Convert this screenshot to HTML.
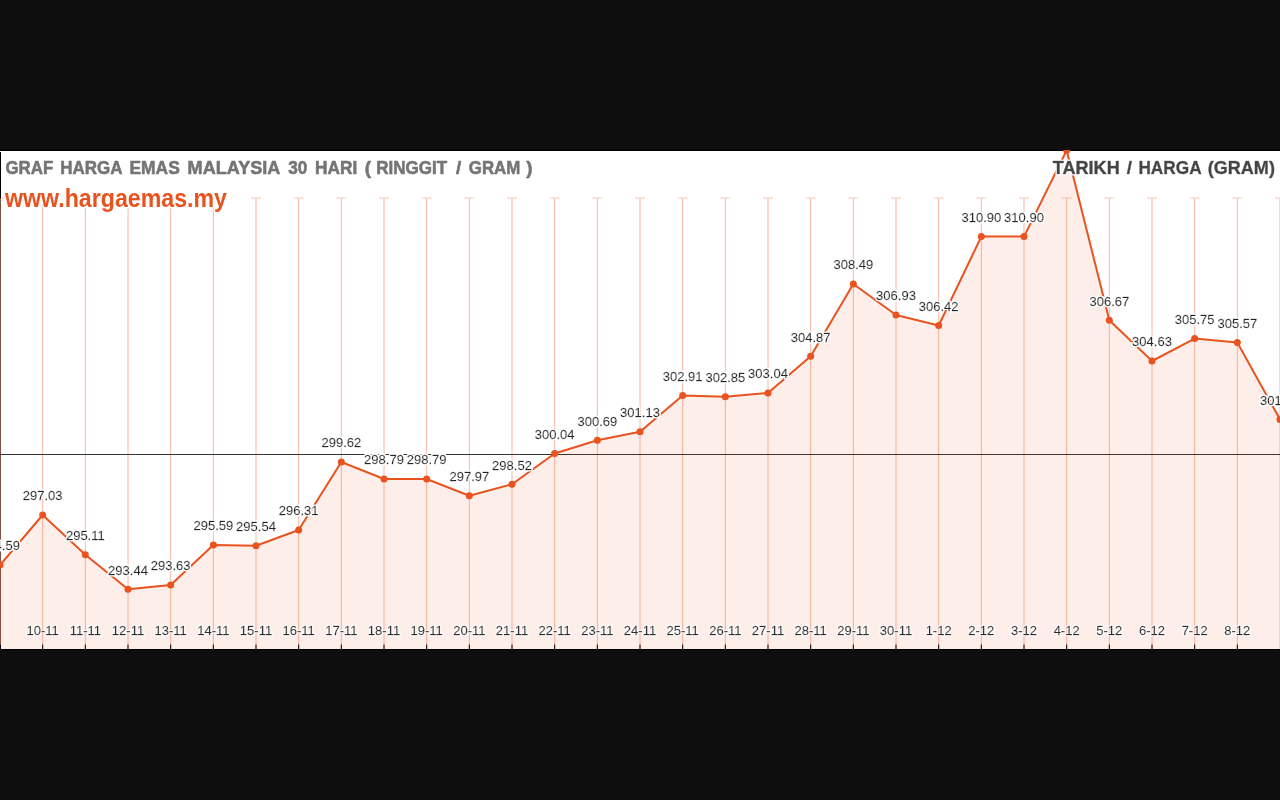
<!DOCTYPE html>
<html lang="ms">
<head>
<meta charset="utf-8">
<title>Graf Harga Emas Malaysia 30 Hari</title>
<style>
html,body{margin:0;padding:0;width:1280px;height:800px;overflow:hidden;background:#0e0e0e;}
#chart{position:absolute;left:0;top:150px;width:1280px;height:500px;display:block;}
text{font-family:"Liberation Sans",Arial,sans-serif;}
.v{font-size:13px;fill:#222;text-anchor:middle;stroke:#222;stroke-width:0.3px;}
.d{font-size:13px;fill:#2a2a2a;text-anchor:middle;stroke:#2a2a2a;stroke-width:0.3px;}
.t1{font-size:18.8px;font-weight:bold;fill:#757575;stroke:#757575;stroke-width:0.6px;stroke-linejoin:round;}
.t2{font-size:25.2px;font-weight:bold;fill:#e8531f;stroke:#fff;stroke-width:3px;stroke-linejoin:round;paint-order:stroke fill;}
.t3{font-size:18.8px;font-weight:bold;fill:#444;stroke:#444;stroke-width:0.6px;stroke-linejoin:round;}
</style>
</head>
<body>
<svg id="chart" width="1280" height="500" viewBox="0 0 1280 500">
<defs>
<filter id="halo" x="-5%" y="-40%" width="110%" height="180%">
<feMorphology in="SourceAlpha" operator="dilate" radius="1.3" result="d"/>
<feGaussianBlur in="d" stdDeviation="0.6" result="b"/>
<feFlood flood-color="#fff" result="w"/>
<feComposite in="w" in2="b" operator="in" result="h"/>
<feMerge><feMergeNode in="h"/><feMergeNode in="h"/><feMergeNode in="SourceGraphic"/></feMerge>
</filter>
<filter id="halo2" x="0" y="0" width="100%" height="100%" filterUnits="userSpaceOnUse" primitiveUnits="userSpaceOnUse">
<feMorphology in="SourceAlpha" operator="dilate" radius="1.4" result="d"/>
<feGaussianBlur in="d" stdDeviation="0.5" result="b"/>
<feFlood flood-color="#fff" result="w"/>
<feComposite in="w" in2="b" operator="in" result="h"/>
<feMerge><feMergeNode in="h"/><feMergeNode in="h"/><feMergeNode in="SourceGraphic"/></feMerge>
</filter>
<filter id="halo3" x="0" y="0" width="100%" height="100%" filterUnits="userSpaceOnUse" primitiveUnits="userSpaceOnUse">
<feMorphology in="SourceAlpha" operator="dilate" radius="0.9" result="d"/>
<feGaussianBlur in="d" stdDeviation="0.5" result="b"/>
<feFlood flood-color="#fff" flood-opacity="0.9" result="w"/>
<feComposite in="w" in2="b" operator="in" result="h"/>
<feMerge><feMergeNode in="h"/><feMergeNode in="SourceGraphic"/></feMerge>
</filter>
</defs>
<rect x="0" y="0" width="1280" height="500" fill="#000"/>
<rect x="0" y="1" width="1280" height="498" fill="#fff"/>

<g stroke="#f6baa5" stroke-width="1" fill="none">
<line x1="42.67" y1="48" x2="42.67" y2="499"/>
<line x1="85.33" y1="48" x2="85.33" y2="499"/>
<line x1="128.0" y1="48" x2="128.0" y2="499"/>
<line x1="170.67" y1="48" x2="170.67" y2="499"/>
<line x1="213.33" y1="48" x2="213.33" y2="499"/>
<line x1="256.0" y1="48" x2="256.0" y2="499"/>
<line x1="298.67" y1="48" x2="298.67" y2="499"/>
<line x1="341.33" y1="48" x2="341.33" y2="499"/>
<line x1="384.0" y1="48" x2="384.0" y2="499"/>
<line x1="426.67" y1="48" x2="426.67" y2="499"/>
<line x1="469.33" y1="48" x2="469.33" y2="499"/>
<line x1="512.0" y1="48" x2="512.0" y2="499"/>
<line x1="554.67" y1="48" x2="554.67" y2="499"/>
<line x1="597.33" y1="48" x2="597.33" y2="499"/>
<line x1="640.0" y1="48" x2="640.0" y2="499"/>
<line x1="682.67" y1="48" x2="682.67" y2="499"/>
<line x1="725.33" y1="48" x2="725.33" y2="499"/>
<line x1="768.0" y1="48" x2="768.0" y2="499"/>
<line x1="810.67" y1="48" x2="810.67" y2="499"/>
<line x1="853.33" y1="48" x2="853.33" y2="499"/>
<line x1="896.0" y1="48" x2="896.0" y2="499"/>
<line x1="938.67" y1="48" x2="938.67" y2="499"/>
<line x1="981.33" y1="48" x2="981.33" y2="499"/>
<line x1="1024.0" y1="48" x2="1024.0" y2="499"/>
<line x1="1066.67" y1="48" x2="1066.67" y2="499"/>
<line x1="1109.33" y1="48" x2="1109.33" y2="499"/>
<line x1="1152.0" y1="48" x2="1152.0" y2="499"/>
<line x1="1194.67" y1="48" x2="1194.67" y2="499"/>
<line x1="1237.33" y1="48" x2="1237.33" y2="499"/>
<line x1="1280.0" y1="48" x2="1280.0" y2="499"/>
</g>
<g stroke="#f8c8b8" stroke-width="1" fill="none">
<line x1="-5.0" y1="48" x2="5.0" y2="48"/>
<line x1="37.67" y1="48" x2="47.67" y2="48"/>
<line x1="80.33" y1="48" x2="90.33" y2="48"/>
<line x1="123.0" y1="48" x2="133.0" y2="48"/>
<line x1="165.67" y1="48" x2="175.67" y2="48"/>
<line x1="208.33" y1="48" x2="218.33" y2="48"/>
<line x1="251.0" y1="48" x2="261.0" y2="48"/>
<line x1="293.67" y1="48" x2="303.67" y2="48"/>
<line x1="336.33" y1="48" x2="346.33" y2="48"/>
<line x1="379.0" y1="48" x2="389.0" y2="48"/>
<line x1="421.67" y1="48" x2="431.67" y2="48"/>
<line x1="464.33" y1="48" x2="474.33" y2="48"/>
<line x1="507.0" y1="48" x2="517.0" y2="48"/>
<line x1="549.67" y1="48" x2="559.67" y2="48"/>
<line x1="592.33" y1="48" x2="602.33" y2="48"/>
<line x1="635.0" y1="48" x2="645.0" y2="48"/>
<line x1="677.67" y1="48" x2="687.67" y2="48"/>
<line x1="720.33" y1="48" x2="730.33" y2="48"/>
<line x1="763.0" y1="48" x2="773.0" y2="48"/>
<line x1="805.67" y1="48" x2="815.67" y2="48"/>
<line x1="848.33" y1="48" x2="858.33" y2="48"/>
<line x1="891.0" y1="48" x2="901.0" y2="48"/>
<line x1="933.67" y1="48" x2="943.67" y2="48"/>
<line x1="976.33" y1="48" x2="986.33" y2="48"/>
<line x1="1019.0" y1="48" x2="1029.0" y2="48"/>
<line x1="1061.67" y1="48" x2="1071.67" y2="48"/>
<line x1="1104.33" y1="48" x2="1114.33" y2="48"/>
<line x1="1147.0" y1="48" x2="1157.0" y2="48"/>
<line x1="1189.67" y1="48" x2="1199.67" y2="48"/>
<line x1="1232.33" y1="48" x2="1242.33" y2="48"/>
<line x1="1275.0" y1="48" x2="1285.0" y2="48"/>
</g>
<rect x="0" y="2" width="1" height="46" fill="#000"/>
<rect x="0" y="48" width="1" height="446.5" fill="#7d5244"/>
<rect x="0" y="304" width="1280" height="1" fill="#333"/>
<polygon points="0,499 0.0,415 42.67,365 85.33,404.75 128.0,439.25 170.67,435 213.33,395 256.0,395.75 298.67,380 341.33,312 384.0,329 426.67,329 469.33,345.75 512.0,334.25 554.67,303.5 597.33,290.25 640.0,281.75 682.67,245.5 725.33,246.75 768.0,243 810.67,206.25 853.33,134 896.0,165 938.67,175.5 981.33,86.6 1024.0,86.6 1066.67,0.3 1109.33,170.2 1152.0,211 1194.67,188.6 1237.33,192.4 1280.0,269.4 1280,499" fill="#e8531f" fill-opacity="0.098"/>
<polyline points="0.0,415 42.67,365 85.33,404.75 128.0,439.25 170.67,435 213.33,395 256.0,395.75 298.67,380 341.33,312 384.0,329 426.67,329 469.33,345.75 512.0,334.25 554.67,303.5 597.33,290.25 640.0,281.75 682.67,245.5 725.33,246.75 768.0,243 810.67,206.25 853.33,134 896.0,165 938.67,175.5 981.33,86.6 1024.0,86.6 1066.67,0.3 1109.33,170.2 1152.0,211 1194.67,188.6 1237.33,192.4 1280.0,269.4" fill="none" stroke="#e8531f" stroke-width="2" stroke-linejoin="round"/>
<g fill="#e8531f">
<circle cx="0.0" cy="415" r="3.5"/>
<circle cx="42.67" cy="365" r="3.5"/>
<circle cx="85.33" cy="404.75" r="3.5"/>
<circle cx="128.0" cy="439.25" r="3.5"/>
<circle cx="170.67" cy="435" r="3.5"/>
<circle cx="213.33" cy="395" r="3.5"/>
<circle cx="256.0" cy="395.75" r="3.5"/>
<circle cx="298.67" cy="380" r="3.5"/>
<circle cx="341.33" cy="312" r="3.5"/>
<circle cx="384.0" cy="329" r="3.5"/>
<circle cx="426.67" cy="329" r="3.5"/>
<circle cx="469.33" cy="345.75" r="3.5"/>
<circle cx="512.0" cy="334.25" r="3.5"/>
<circle cx="554.67" cy="303.5" r="3.5"/>
<circle cx="597.33" cy="290.25" r="3.5"/>
<circle cx="640.0" cy="281.75" r="3.5"/>
<circle cx="682.67" cy="245.5" r="3.5"/>
<circle cx="725.33" cy="246.75" r="3.5"/>
<circle cx="768.0" cy="243" r="3.5"/>
<circle cx="810.67" cy="206.25" r="3.5"/>
<circle cx="853.33" cy="134" r="3.5"/>
<circle cx="896.0" cy="165" r="3.5"/>
<circle cx="938.67" cy="175.5" r="3.5"/>
<circle cx="981.33" cy="86.6" r="3.5"/>
<circle cx="1024.0" cy="86.6" r="3.5"/>
<circle cx="1066.67" cy="0.3" r="3.5"/>
<circle cx="1109.33" cy="170.2" r="3.5"/>
<circle cx="1152.0" cy="211" r="3.5"/>
<circle cx="1194.67" cy="188.6" r="3.5"/>
<circle cx="1237.33" cy="192.4" r="3.5"/>
<circle cx="1280.0" cy="269.4" r="3.5"/>
</g>
<g fill="#000">
<rect x="0" y="494.5" width="1" height="4.5"/>
<rect x="42.17" y="494.5" width="1" height="4.5"/>
<rect x="84.83" y="494.5" width="1" height="4.5"/>
<rect x="127.5" y="494.5" width="1" height="4.5"/>
<rect x="170.17" y="494.5" width="1" height="4.5"/>
<rect x="212.83" y="494.5" width="1" height="4.5"/>
<rect x="255.5" y="494.5" width="1" height="4.5"/>
<rect x="298.17" y="494.5" width="1" height="4.5"/>
<rect x="340.83" y="494.5" width="1" height="4.5"/>
<rect x="383.5" y="494.5" width="1" height="4.5"/>
<rect x="426.17" y="494.5" width="1" height="4.5"/>
<rect x="468.83" y="494.5" width="1" height="4.5"/>
<rect x="511.5" y="494.5" width="1" height="4.5"/>
<rect x="554.17" y="494.5" width="1" height="4.5"/>
<rect x="596.83" y="494.5" width="1" height="4.5"/>
<rect x="639.5" y="494.5" width="1" height="4.5"/>
<rect x="682.17" y="494.5" width="1" height="4.5"/>
<rect x="724.83" y="494.5" width="1" height="4.5"/>
<rect x="767.5" y="494.5" width="1" height="4.5"/>
<rect x="810.17" y="494.5" width="1" height="4.5"/>
<rect x="852.83" y="494.5" width="1" height="4.5"/>
<rect x="895.5" y="494.5" width="1" height="4.5"/>
<rect x="938.17" y="494.5" width="1" height="4.5"/>
<rect x="980.83" y="494.5" width="1" height="4.5"/>
<rect x="1023.5" y="494.5" width="1" height="4.5"/>
<rect x="1066.17" y="494.5" width="1" height="4.5"/>
<rect x="1108.83" y="494.5" width="1" height="4.5"/>
<rect x="1151.5" y="494.5" width="1" height="4.5"/>
<rect x="1194.17" y="494.5" width="1" height="4.5"/>
<rect x="1236.83" y="494.5" width="1" height="4.5"/>
</g>
<g class="v" filter="url(#halo2)">
<text x="0.0" y="400.4">294.59</text>
<text x="42.67" y="350.4">297.03</text>
<text x="85.33" y="390.15">295.11</text>
<text x="128.0" y="424.65">293.44</text>
<text x="170.67" y="420.4">293.63</text>
<text x="213.33" y="380.4">295.59</text>
<text x="256.0" y="381.15">295.54</text>
<text x="298.67" y="365.4">296.31</text>
<text x="341.33" y="297.4">299.62</text>
<text x="384.0" y="314.4">298.79</text>
<text x="426.67" y="314.4">298.79</text>
<text x="469.33" y="331.15">297.97</text>
<text x="512.0" y="319.65">298.52</text>
<text x="554.67" y="288.9">300.04</text>
<text x="597.33" y="275.65">300.69</text>
<text x="640.0" y="267.15">301.13</text>
<text x="682.67" y="230.9">302.91</text>
<text x="725.33" y="232.15">302.85</text>
<text x="768.0" y="228.4">303.04</text>
<text x="810.67" y="191.65">304.87</text>
<text x="853.33" y="119.4">308.49</text>
<text x="896.0" y="150.4">306.93</text>
<text x="938.67" y="160.9">306.42</text>
<text x="981.33" y="72.0">310.90</text>
<text x="1024.0" y="72.0">310.90</text>
<text x="1109.33" y="155.6">306.67</text>
<text x="1152.0" y="196.4">304.63</text>
<text x="1194.67" y="174.0">305.75</text>
<text x="1237.33" y="177.8">305.57</text>
<text x="1280.0" y="254.8">301.74</text>
</g>
<g class="d" filter="url(#halo3)">
<text x="42.67" y="484.5">10-11</text>
<text x="85.33" y="484.5">11-11</text>
<text x="128.0" y="484.5">12-11</text>
<text x="170.67" y="484.5">13-11</text>
<text x="213.33" y="484.5">14-11</text>
<text x="256.0" y="484.5">15-11</text>
<text x="298.67" y="484.5">16-11</text>
<text x="341.33" y="484.5">17-11</text>
<text x="384.0" y="484.5">18-11</text>
<text x="426.67" y="484.5">19-11</text>
<text x="469.33" y="484.5">20-11</text>
<text x="512.0" y="484.5">21-11</text>
<text x="554.67" y="484.5">22-11</text>
<text x="597.33" y="484.5">23-11</text>
<text x="640.0" y="484.5">24-11</text>
<text x="682.67" y="484.5">25-11</text>
<text x="725.33" y="484.5">26-11</text>
<text x="768.0" y="484.5">27-11</text>
<text x="810.67" y="484.5">28-11</text>
<text x="853.33" y="484.5">29-11</text>
<text x="896.0" y="484.5">30-11</text>
<text x="938.67" y="484.5">1-12</text>
<text x="981.33" y="484.5">2-12</text>
<text x="1024.0" y="484.5">3-12</text>
<text x="1066.67" y="484.5">4-12</text>
<text x="1109.33" y="484.5">5-12</text>
<text x="1152.0" y="484.5">6-12</text>
<text x="1194.67" y="484.5">7-12</text>
<text x="1237.33" y="484.5">8-12</text>
</g>
<text class="t1" x="5.5" y="23.9" textLength="47.7" lengthAdjust="spacingAndGlyphs">GRAF</text>
<text class="t1" x="60.2" y="23.9" textLength="62.3" lengthAdjust="spacingAndGlyphs">HARGA</text>
<text class="t1" x="129.5" y="23.9" textLength="50.3" lengthAdjust="spacingAndGlyphs">EMAS</text>
<text class="t1" x="187.6" y="23.9" textLength="92.8" lengthAdjust="spacingAndGlyphs">MALAYSIA</text>
<text class="t1" x="288.3" y="23.9" textLength="19.1" lengthAdjust="spacingAndGlyphs">30</text>
<text class="t1" x="315" y="23.9" textLength="42.2" lengthAdjust="spacingAndGlyphs">HARI</text>
<text class="t1" x="367.85" y="23.9" text-anchor="middle">(</text>
<text class="t1" x="376.3" y="23.9" textLength="70.9" lengthAdjust="spacingAndGlyphs">RINGGIT</text>
<text class="t1" x="458.5" y="23.9" text-anchor="middle">/</text>
<text class="t1" x="468.8" y="23.9" textLength="51.5" lengthAdjust="spacingAndGlyphs">GRAM</text>
<text class="t1" x="529.3" y="23.9" text-anchor="middle">)</text>
<text class="t2" x="5" y="57.3" textLength="222" lengthAdjust="spacingAndGlyphs">www.hargaemas.my</text>
<g filter="url(#halo)">
<text class="t3" x="1052.75" y="24.0" textLength="66.95" lengthAdjust="spacingAndGlyphs">TARIKH</text>
<text class="t3" x="1129.25" y="24.0" text-anchor="middle">/</text>
<text class="t3" x="1138.4" y="24.0" textLength="63.2" lengthAdjust="spacingAndGlyphs">HARGA</text>
<text class="t3" x="1207.8" y="24.0" textLength="67.1" lengthAdjust="spacingAndGlyphs">(GRAM)</text>
</g>
</svg>
</body>
</html>
